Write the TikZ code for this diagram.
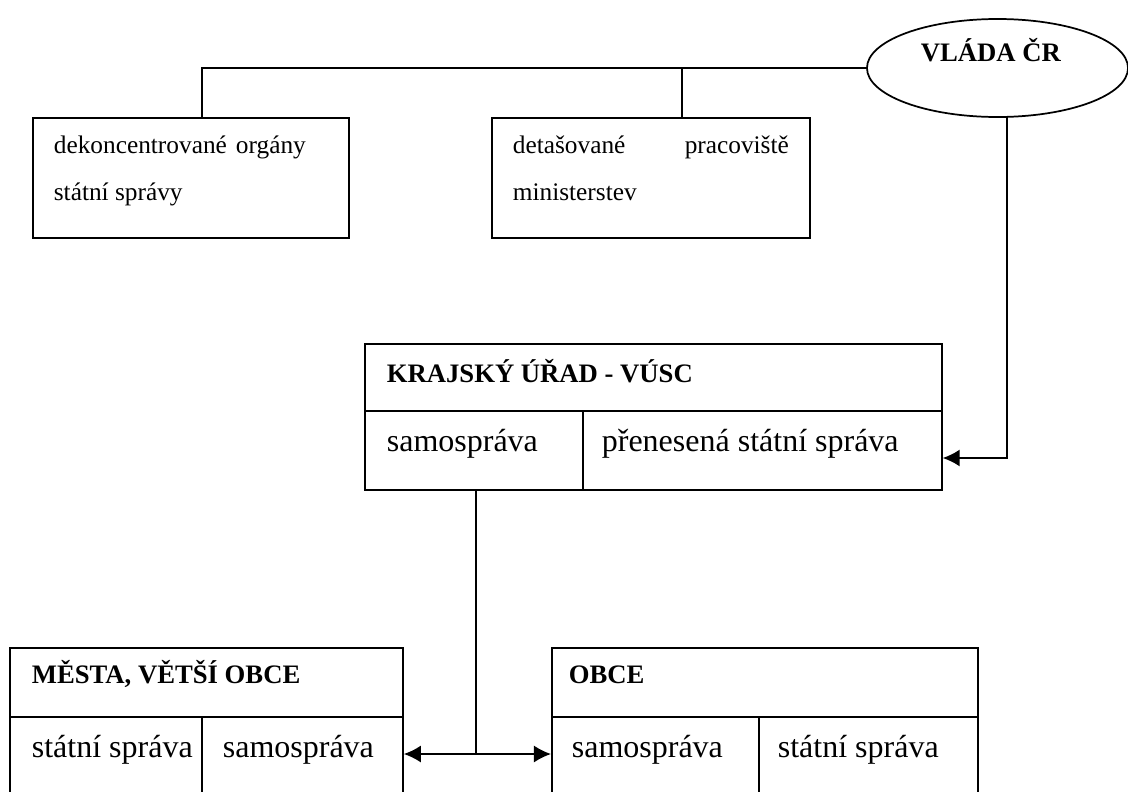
\documentclass[tikz,border=0pt]{standalone}
\usepackage{fontspec}
\setmainfont{Liberation Serif}
\usepackage{tikz}
\usetikzlibrary{shapes.geometric,arrows.meta}

\begin{document}
\begin{tikzpicture}[x=0.375pt,y=-0.375pt,line width=0.65pt,
	cell/.style={draw, rectangle, anchor=north west, inner sep=0pt},
	txt/.style={anchor=base west, inner sep=0pt, font=\fontsize{12}{14}\selectfont},
	small/.style={anchor=base west, inner sep=0pt, font=\fontsize{9.5}{11}\selectfont},
	title/.style={anchor=base west, inner sep=0pt, font=\fontsize{10}{12}\selectfont\bfseries},
	tip/.style={-{Latex[length=6.4pt,width=6.4pt]}}]
	\useasboundingbox (0,0) rectangle (1128,792);
	
	% vlada
	\node[draw, ellipse, minimum width=97.9pt, minimum height=36.75pt] (vlada) at (997.5,68) {};
	\node[title] (vladatxt) at (920,61) {VLÁDA ČR};
	
	% top boxes
	\node[cell, minimum width=118.5pt, minimum height=45pt] (deko) at (32,117) {};
	\node[small] (deko1) at (53,153) {\makebox[94.5pt][s]{dekoncentrované orgány}};
	\node[small] (deko2) at (53,200) {státní správy};
	
	\node[cell, minimum width=119.25pt, minimum height=45pt] (deta) at (491,117) {};
	\node[small] (deta1) at (512,153) {\makebox[103.5pt][s]{detašované pracoviště}};
	\node[small] (deta2) at (512,200) {ministerstev};
	
	\coordinate (dekotop) at (202,117);
	\coordinate (detatop) at (682,117);
	\draw (vlada.west) -| (dekotop);
	\draw (detatop) -- (detatop |- vlada.west);
	
	% kraj
	\node[cell, minimum width=216.4pt, minimum height=25.1pt] (kraj) at (364,343) {};
	\node[cell, minimum width=81.75pt, minimum height=29.6pt] (krajsamo) at (364,410) {};
	\node[cell, minimum width=134.6pt, minimum height=29.6pt] (krajpren) at (582,410) {};
	\node[title] (krajtxt) at (386,382) {KRAJSKÝ ÚŘAD - VÚSC};
	\node[txt] (krajsamotxt) at (386,451) {samospráva};
	\node[txt] (krajprentxt) at (601,451) {přenesená státní správa};
	
	\coordinate (vladabot) at (1007,117);
	\coordinate (bend) at (1007,458);
	\draw[tip] (vladabot) -- (bend) -- (bend -| krajpren.east);
	
	% mesta, obce
	\node[cell, minimum width=147.4pt, minimum height=25.9pt] (mesta) at (9,647) {};
	\node[cell, minimum width=72pt, minimum height=33.75pt] (mestastat) at (9,716) {};
	\node[cell, minimum width=75.4pt, minimum height=33.75pt] (mestasamo) at (201,716) {};
	\node[title] (mestatxt) at (31,683) {MĚSTA, VĚTŠÍ OBCE};
	\node[txt] (mestastattxt) at (31,757) {státní správa};
	\node[txt] (mestasamotxt) at (222,757) {samospráva};
	
	\node[cell, minimum width=159.75pt, minimum height=25.9pt] (obce) at (551,647) {};
	\node[cell, minimum width=77.6pt, minimum height=33.75pt] (obcesamo) at (551,716) {};
	\node[cell, minimum width=82.1pt, minimum height=33.75pt] (obcestat) at (758,716) {};
	\node[title] (obcetxt) at (568,683) {OBCE};
	\node[txt] (obcesamotxt) at (571,757) {samospráva};
	\node[txt] (obcestattxt) at (777,757) {státní správa};
	
	\coordinate (split) at (476,754);
	\draw (krajsamo.south -| split) -- (split);
	\draw[tip] (split) -- (split -| mestasamo.east);
	\draw[tip] (split) -- (split -| obcesamo.west);
\end{tikzpicture}
\end{document}
